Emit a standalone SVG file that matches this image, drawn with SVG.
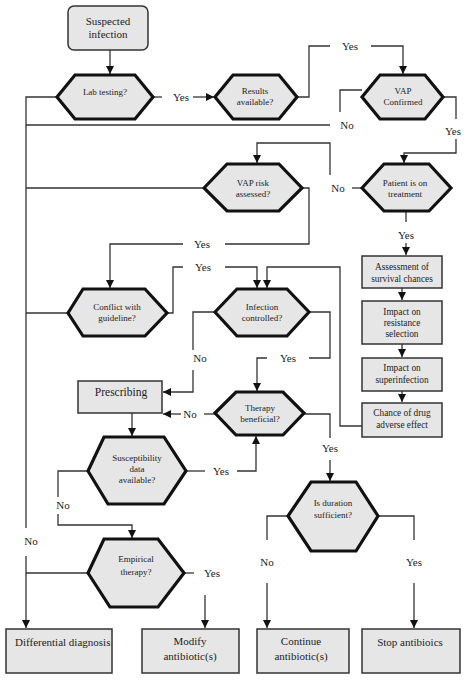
<svg xmlns="http://www.w3.org/2000/svg" width="467" height="685" viewBox="0 0 467 685">
<defs>
<marker id="ah" markerUnits="userSpaceOnUse" markerWidth="9" markerHeight="9" refX="8" refY="4" orient="auto">
<path d="M0,0 L8,4 L0,8 z" fill="#111"/>
</marker>
<style>
.hex{fill:#e6e6e6;stroke:#111;stroke-width:3.2;stroke-linejoin:miter}
.box{fill:#e6e6e6;stroke:#333;stroke-width:1.5}
.t{font-family:"Liberation Serif","Times New Roman",serif;fill:#222;text-anchor:middle}
.s{font-size:9px}
.m{font-size:9.3px}
.l{font-size:11px}
.c path{fill:none;stroke:#333;stroke-width:1.3}
.c path.a{marker-end:url(#ah)}
</style>
</defs>
<rect width="467" height="685" fill="#fff"/>

<g class="c" id="connectors">
<path class="a" d="M110,50 V74"/>
<path d="M57,97 H26 V528"/>
<path class="a" d="M26,556 V628"/>
<path d="M153,97 H162"/>
<path class="a" d="M193,97 H214"/>
<path d="M297,97 H309 V46 H330"/>
<path class="a" d="M371,46 H403 V74"/>
<path d="M362,90 H340 V112"/>
<path d="M330,125 H26"/>
<path d="M443,97 H456 V119"/>
<path class="a" d="M456,139 V153 H404 V163"/>
<path d="M362,188 H352"/>
<path class="a" d="M330,175 V143 H257 V163"/>
<path d="M406,211 V222"/>
<path class="a" d="M406,243 V255"/>
<path class="a" d="M402,288 V300"/>
<path class="a" d="M402,344 V357"/>
<path class="a" d="M402,391 V402"/>
<path class="a" d="M362,426 H340 V267 H267 V288"/>
<path d="M302,188 H309 V244 H225"/>
<path class="a" d="M183,244 H110 V288"/>
<path d="M167,313 H173 V267 H183"/>
<path class="a" d="M225,267 H257 V288"/>
<path d="M68,313 H26"/>
<path d="M204,188 H26"/>
<path d="M215,312 H193 V350"/>
<path class="a" d="M193,370 V392 H163"/>
<path d="M309,312 H330 V358 H309"/>
<path class="a" d="M267,358 H257 V391"/>
<path d="M215,414 H204"/>
<path class="a" d="M181,414 H163"/>
<path class="a" d="M132,413 V436"/>
<path d="M186,471 H205"/>
<path class="a" d="M237,471 H256 V436"/>
<path d="M88,471 H58 V497"/>
<path class="a" d="M58,514 V525 H132 V538"/>
<path d="M88,573 H26"/>
<path d="M184,573 H194"/>
<path class="a" d="M205,595 V628"/>
<path d="M303,414 H330 V438"/>
<path class="a" d="M330,460 V481"/>
<path d="M288,516 H267 V540"/>
<path class="a" d="M267,583 V628"/>
<path d="M378,516 H414 V540"/>
<path class="a" d="M414,583 V628"/>
</g>

<g id="labels" class="t l">
<text x="181" y="101">Yes</text>
<text x="350" y="50">Yes</text>
<text x="347" y="129">No</text>
<text x="453" y="135">Yes</text>
<text x="338" y="192">No</text>
<text x="406" y="239">Yes</text>
<text x="202" y="248">Yes</text>
<text x="203" y="271">Yes</text>
<text x="200" y="362">No</text>
<text x="288" y="362">Yes</text>
<text x="190" y="418">No</text>
<text x="221" y="475">Yes</text>
<text x="63" y="509">No</text>
<text x="31" y="545">No</text>
<text x="212" y="577">Yes</text>
<text x="330" y="452">Yes</text>
<text x="267" y="566">No</text>
<text x="414" y="566">Yes</text>
</g>

<g id="suspected">
<rect class="box" x="68" y="6" width="80" height="44" rx="6"/>
<text class="t l" x="108" y="25">Suspected</text>
<text class="t l" x="108" y="38">infection</text>
</g>
<g id="lab">
<polygon class="hex" points="57,97 75,75 135,75 153,97 135,119 75,119"/>
<text class="t s" x="105" y="95">Lab testing?</text>
</g>
<g id="results">
<polygon class="hex" points="215,97 233,75 279,75 297,97 279,119 233,119"/>
<text class="t s" x="255" y="94">Results</text>
<text class="t s" x="255" y="105">available?</text>
</g>
<g id="vapconfirmed">
<polygon class="hex" points="362,97 380,75 425,75 443,97 425,119 380,119"/>
<text class="t s" x="403" y="94">VAP</text>
<text class="t s" x="403" y="105">Confirmed</text>
</g>
<g id="vaprisk">
<polygon class="hex" points="204,188 227,164 279,164 302,188 279,211 227,211"/>
<text class="t s" x="253" y="186">VAP risk</text>
<text class="t s" x="253" y="197">assessed?</text>
</g>
<g id="patient">
<polygon class="hex" points="362,188 384,164 429,164 451,188 429,211 384,211"/>
<text class="t s" x="405" y="186">Patient is on</text>
<text class="t s" x="405" y="197">treatment</text>
</g>
<g id="assessment">
<rect class="box" x="362" y="256" width="80" height="32"/>
<text class="t m" x="402" y="270">Assessment of</text>
<text class="t m" x="402" y="282">survival chances</text>
</g>
<g id="resistance">
<rect class="box" x="362" y="301" width="80" height="43"/>
<text class="t m" x="402" y="315">Impact on</text>
<text class="t m" x="402" y="326">resistance</text>
<text class="t m" x="402" y="337">selection</text>
</g>
<g id="superinfection">
<rect class="box" x="362" y="358" width="80" height="33"/>
<text class="t m" x="402" y="371">Impact on</text>
<text class="t m" x="402" y="383">superinfection</text>
</g>
<g id="adverse">
<rect class="box" x="362" y="403" width="80" height="34"/>
<text class="t m" x="402" y="416">Chance of drug</text>
<text class="t m" x="402" y="428">adverse effect</text>
</g>
<g id="conflict">
<polygon class="hex" points="68,313 83,289 145,289 167,313 145,336 83,336"/>
<text class="t s" x="117" y="310">Conflict with</text>
<text class="t s" x="117" y="321">guideline?</text>
</g>
<g id="infection">
<polygon class="hex" points="215,312 237,289 287,289 309,312 287,336 237,336"/>
<text class="t s" x="262" y="310">Infection</text>
<text class="t s" x="262" y="321">controlled?</text>
</g>
<g id="prescribing">
<rect class="box" x="78" y="381" width="84" height="32"/>
<text class="t" x="121" y="396" style="font-size:11.5px">Prescribing</text>
</g>
<g id="therapy">
<polygon class="hex" points="215,413 236,392 283,392 304,413 283,435 236,435"/>
<text class="t s" x="260" y="411">Therapy</text>
<text class="t s" x="260" y="422">beneficial?</text>
</g>
<g id="susceptibility">
<polygon class="hex" points="88,471 104,437 164,437 186,471 164,504 108,504"/>
<text class="t s" x="137" y="461">Susceptibility</text>
<text class="t s" x="137" y="472">data</text>
<text class="t s" x="137" y="483">available?</text>
</g>
<g id="empirical">
<polygon class="hex" points="88,573 104,539 158,539 184,573 158,607 110,607"/>
<text class="t s" x="136" y="562">Empirical</text>
<text class="t s" x="136" y="575">therapy?</text>
</g>
<g id="duration">
<polygon class="hex" points="288,516 311,482 356,482 378,516 356,551 311,551"/>
<text class="t s" x="333" y="506">Is duration</text>
<text class="t s" x="333" y="518">sufficient?</text>
</g>
<g id="differential">
<rect class="box" x="6" y="629" width="106" height="44"/>
<text class="t l" x="15" y="646" style="text-anchor:start">Differential diagnosis</text>
</g>
<g id="modify">
<rect class="box" x="142" y="629" width="97" height="44"/>
<text class="t l" x="190" y="645">Modify</text>
<text class="t l" x="190" y="660">antibiotic(s)</text>
</g>
<g id="continue">
<rect class="box" x="257" y="629" width="92" height="44"/>
<text class="t l" x="301" y="645">Continue</text>
<text class="t l" x="301" y="660">antibiotic(s)</text>
</g>
<g id="stop">
<rect class="box" x="362" y="629" width="98" height="44"/>
<text class="t l" x="410" y="646">Stop antibioics</text>
</g>
</svg>
